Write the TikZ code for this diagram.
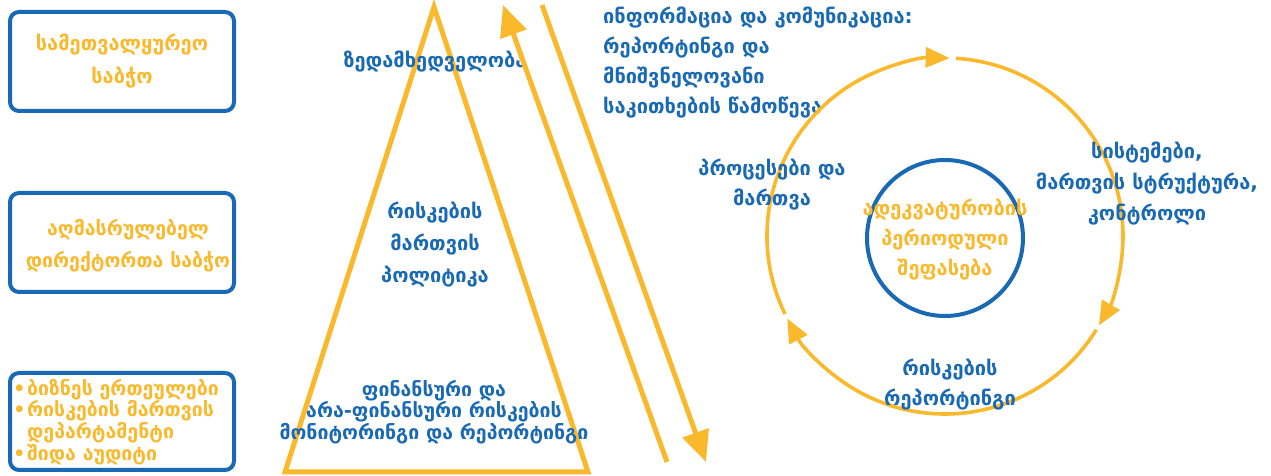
\documentclass[tikz,border=0pt]{standalone}
\usepackage{fontspec}
\setmainfont{DejaVu Sans}
\newfontfamily\geo{DejaVu Sans}
\usetikzlibrary{arrows.meta}
\definecolor{orng}{RGB}{250,185,45}
\definecolor{blu}{RGB}{25,105,180}
\tikzset{
  lbl/.style={inner sep=0pt, align=center, text=blu, font=\geo\bfseries\fontsize{20}{#1}\selectfont},
  lbl/.default=30,
  olbl/.style={lbl=#1, text=orng},
  olbl/.default=30,
  small/.style={font=\geo\bfseries\fontsize{19.5}{#1}\selectfont},
  panel/.style={draw=blu, line width=4pt, rounded corners=9pt},
  flow/.style={draw=orng, line width=5pt, -{Triangle[length=31pt,width=27pt]}},
  cyc/.style={draw=orng, line width=3.6pt, -{Triangle[length=24pt,width=20pt]}},
}
\begin{document}
\begin{tikzpicture}[x=1pt,y=1pt]
\useasboundingbox (0,0) rectangle (1271,476);

% governance boxes
\draw[panel] (10,365) rectangle (234,464);
\draw[panel] (10,184) rectangle (234,283);
\draw[panel] (10,6) rectangle (234,103);
\node[olbl=33] (sb) at (122,415) {სამეთვალყურეო\\საბჭო};
\node[olbl, small=32] (ab) at (128,230) {აღმასრულებელ\\დირექტორთა საბჭო};
\node[olbl, small=20, align=left, anchor=west] (bu) at (13,54)
  {\makebox[14pt][l]{•}ბიზნეს ერთეულები\\
   \makebox[14pt][l]{•}რისკების მართვის\\
   \hspace*{14pt}დეპარტამენტი\\
   \makebox[14pt][l]{•}შიდა აუდიტი};

% pyramid
\coordinate (apex) at (434,469);
\coordinate (bl) at (285,4);
\coordinate (br) at (588,4);
\draw[orng, line width=5pt, line join=miter] (apex) -- (bl) -- (br) -- cycle;
\node[lbl] (sup) at (435,414) {ზედამხედველობა};
\node[lbl=32] (pol) at (435,231) {რისკების\\მართვის\\პოლიტიკა};
\node[lbl, small=20] (mon) at (434,64) {ფინანსური და\\არა-ფინანსური რისკების\\მონიტორინგი და რეპორტინგი};

% information flow arrows
\coordinate (upS) at (667,14);
\coordinate (upE) at (503,471);
\coordinate (dnS) at (542,471);
\coordinate (dnE) at (706,14);
\draw[flow] (upS) -- (upE);
\draw[flow] (dnS) -- (dnE);
\node[lbl=29.7, align=left, anchor=west] (info) at (603,413.5)
  {ინფორმაცია და კომუნიკაცია:\\რეპორტინგი და\\მნიშვნელოვანი\\საკითხების წამოწევა};

% cycle
\coordinate (c) at (945,240);
\draw[cyc] ([shift={(206:178)}]c) arc[start angle=206, end angle=88.5, radius=178];
\draw[cyc] ([shift={(86.5:178)}]c) arc[start angle=86.5, end angle=-30.2, radius=178];
\draw[cyc] ([shift={(-31.8:178)}]c) arc[start angle=-31.8, end angle=-152.4, radius=178];
\node[draw=blu, line width=4pt, circle, minimum size=156pt, inner sep=0pt] (core) at (945,238) {};
\node[olbl=30] (adq) at (945,236) {ადეკვატურობის\\პერიოდული\\შეფასება};
\node[lbl] (proc) at (772,291) {პროცესები და\\მართვა};
\node[lbl=31] (sys) at (1147,292) {სისტემები,\\მართვის სტრუქტურა,\\კონტროლი};
\node[lbl] (rep) at (950,91) {რისკების\\რეპორტინგი};
\end{tikzpicture}
\end{document}
